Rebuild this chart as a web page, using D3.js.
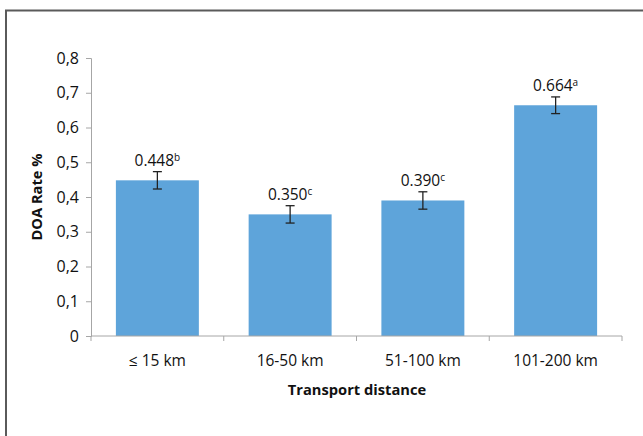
<!DOCTYPE html>
<html>
<head>
<meta charset="utf-8">
<script src="https://cdn.jsdelivr.net/npm/d3@7"></script>
<style>
  html, body { margin: 0; padding: 0; background: #fff; }
  svg { display: block; }
</style>
</head>
<body>
<svg id="chart" width="643" height="436"></svg>
<script>
// DOA rate by transport distance
const categories = ["≤ 15 km", "16-50 km", "51-100 km", "101-200 km"];
const doaRate = [0.448, 0.350, 0.390, 0.664];
const errorHalf = [0.025, 0.025, 0.025, 0.024];
const letters = ["b", "c", "c", "a"];
const yTicks = [0, 0.1, 0.2, 0.3, 0.4, 0.5, 0.6, 0.7, 0.8];
const yTickLabels = ["0", "0,1", "0,2", "0,3", "0,4", "0,5", "0,6", "0,7", "0,8"];

const svg = d3.select("#chart");
const font = "'Open Sans', 'DejaVu Sans', sans-serif";
const ink = "#111";

// frame
svg.append("path")
  .attr("d", "M6,436 L6,10.5 L643,10.5")
  .attr("fill", "none")
  .attr("stroke", "#5a5a5a")
  .attr("stroke-width", 2);

const x = d3.scaleBand().domain(categories).range([91, 622]).paddingInner(0.375).paddingOuter(0.1875);
const y = d3.scaleLinear().domain([0, 0.8]).range([336, 58]);

// bars
svg.append("g").selectAll("rect")
  .data(doaRate)
  .join("rect")
  .attr("x", (d, i) => x(categories[i]))
  .attr("y", d => y(d))
  .attr("width", x.bandwidth())
  .attr("height", d => y(0) - y(d))
  .attr("fill", "#5ea4da");

// y axis
const yAxis = svg.append("g")
  .attr("transform", "translate(91,0)")
  .call(d3.axisLeft(y).tickValues(yTicks).tickFormat((d, i) => yTickLabels[i]).tickSize(5).tickPadding(7));
yAxis.select(".domain").attr("stroke", "#a6a6a6");
yAxis.selectAll(".tick line").attr("stroke", "#a6a6a6");
yAxis.selectAll("text").attr("font-family", font).attr("font-size", 16).attr("fill", ink);

// x axis with ticks at band boundaries
const xAxis = svg.append("g").attr("transform", "translate(0,336)");
xAxis.append("line").attr("x1", 91).attr("x2", 622).attr("stroke", "#a6a6a6");
const step = x.step();
const bounds = categories.map((c, i) => x(c) - x.paddingInner() * step / 2).concat([622]);
xAxis.selectAll("line.tk").data(bounds).join("line")
  .attr("class", "tk")
  .attr("x1", d => d).attr("x2", d => d)
  .attr("y1", 0).attr("y2", 5)
  .attr("stroke", "#a6a6a6");
xAxis.selectAll("text").data(categories).join("text")
  .attr("x", d => x(d) + x.bandwidth() / 2)
  .attr("y", 30)
  .attr("text-anchor", "middle")
  .attr("font-family", font)
  .attr("font-size", 15.5)
  .attr("fill", ink)
  .text(d => d);

// error bars
const eb = svg.append("g").attr("stroke", "#222").attr("stroke-width", 1.3);
doaRate.forEach((v, i) => {
  const cx = x(categories[i]) + x.bandwidth() / 2;
  const t = y(v + errorHalf[i]), b = y(v - errorHalf[i]);
  eb.append("line").attr("x1", cx).attr("x2", cx).attr("y1", t).attr("y2", b);
  eb.append("line").attr("x1", cx - 4.5).attr("x2", cx + 4.5).attr("y1", t).attr("y2", t);
  eb.append("line").attr("x1", cx - 4.5).attr("x2", cx + 4.5).attr("y1", b).attr("y2", b);
});

// value labels with significance letters
svg.append("g").selectAll("text")
  .data(doaRate)
  .join("text")
  .attr("x", (d, i) => x(categories[i]) + x.bandwidth() / 2)
  .attr("y", (d, i) => y(d + errorHalf[i]) - 6)
  .attr("text-anchor", "middle")
  .attr("font-family", font)
  .attr("font-size", 15.5)
  .attr("fill", ink)
  .each(function(d, i) {
    const t = d3.select(this);
    t.append("tspan").text(d.toFixed(3));
    t.append("tspan").attr("font-size", 10).attr("dy", -5).text(letters[i]);
  });

// axis titles
svg.append("text")
  .attr("transform", "translate(42,197) rotate(-90)")
  .attr("text-anchor", "middle")
  .attr("font-family", font)
  .attr("font-weight", "bold")
  .attr("font-size", 14.7)
  .attr("fill", ink)
  .text("DOA Rate %");

svg.append("text")
  .attr("x", 357)
  .attr("y", 395)
  .attr("text-anchor", "middle")
  .attr("font-family", font)
  .attr("font-weight", "bold")
  .attr("font-size", 14.7)
  .attr("fill", ink)
  .text("Transport distance");
</script>
</body>
</html>
